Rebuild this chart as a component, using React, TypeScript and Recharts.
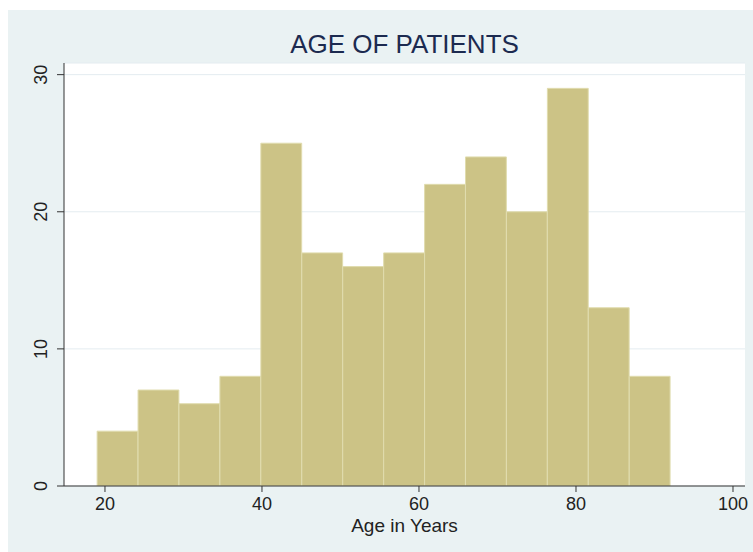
import React from 'react';
import {
  ComposedChart, Bar, XAxis, YAxis, CartesianGrid
} from 'recharts';

// histogram bins: first edge, bin width and counts
const binStart = 19;
const binWidth = 73 / 14;
const counts = [4, 7, 6, 8, 25, 17, 16, 17, 22, 24, 20, 29, 13, 8];
const xTicks = [20, 40, 60, 80, 100];
const yTicks = [0, 10, 20, 30];

const data = counts.map((count, i) => ({
  mid: binStart + binWidth * (i + 0.5),
  count,
}));

const W = 745;
const H = 542;
const margin = { top: 53, right: 8, left: 16, bottom: 10 };
const yAxisWidth = 40;
const xDomain = [14.78, 101.53];
const plotWidth = W - margin.left - margin.right - yAxisWidth;
// slightly under the band so recharts does not shrink the bars to 90%
const barPx = (binWidth / (xDomain[1] - xDomain[0])) * plotWidth - 0.1;
const font = 'Liberation Sans, Arial, sans-serif';

const YTick = (props: any) => {
  const { x, y, payload } = props;
  const bx = x - 8;
  return (
    <text
      x={bx}
      y={y}
      transform={`rotate(-90, ${bx}, ${y})`}
      textAnchor="middle"
      fontSize={18}
      fill="#222"
      fontFamily={font}
    >
      {payload.value}
    </text>
  );
};

const App: React.FC = () => {
  return (
    <div style={{ position: 'fixed', top: 10, left: 8, width: W, height: H, background: '#EAF2F3' }}>
      <div
        style={{
          position: 'absolute', top: 21, left: margin.left + yAxisWidth, width: plotWidth,
          textAlign: 'center', fontFamily: font, lineHeight: 1,
          fontSize: 26, color: '#1C2A50',
        }}
      >
        AGE OF PATIENTS
      </div>
      <ComposedChart
        width={W}
        height={H}
        data={data}
        margin={margin}
        barCategoryGap={0}
        barGap={0}
      >
        <CartesianGrid fill="#fff" stroke="#E4ECF0" vertical={false} />
        <XAxis
          dataKey="mid"
          type="number"
          domain={xDomain}
          ticks={xTicks}
          allowDataOverflow
          height={56}
          tickSize={6}
          tickMargin={5}
          stroke="#333"
          tick={{ fontSize: 18, fill: '#222', fontFamily: font }}
          label={{
            value: 'Age in Years', position: 'insideBottom', offset: 10,
            fontSize: 19, fill: '#222', fontFamily: font,
          }}
        />
        <YAxis
          type="number"
          domain={[0, 30.85]}
          ticks={yTicks}
          allowDataOverflow
          width={yAxisWidth}
          tickSize={7}
          stroke="#333"
          tick={<YTick />}
        />
        <Bar
          dataKey="count"
          barSize={barPx}
          fill="#CCC386"
          stroke="#E0DCAE"
          strokeWidth={1}
          isAnimationActive={false}
        />
      </ComposedChart>
    </div>
  );
};

export default App;
